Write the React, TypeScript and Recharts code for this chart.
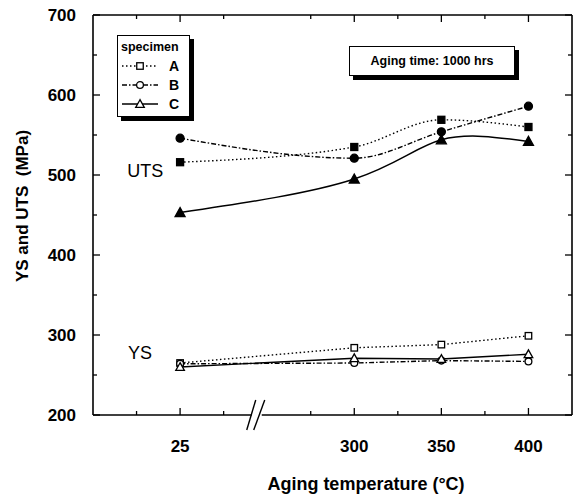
import React from "react"
import { LineChart, Line, XAxis, YAxis, ReferenceDot, ReferenceLine, Legend } from "recharts"

// aging temperatures and the place each one takes on the broken axis
const temps = ["25", "300", "350", "400"]
const axisPos = [200, 300, 350, 400]

// UTS (filled symbols)
const utsA = [516, 535, 569, 560]
const utsB = [546, 521, 554, 586]
const utsC = [453, 495, 544, 542]
// YS (open symbols)
const ysA = [265, 284, 288, 299]
const ysB = [264, 265, 268, 267]
const ysC = [260, 271, 270, 276]

const xTicks = [175, 200, 225, 275, 300, 325, 350, 375, 400]
const xMajor = [200, 300, 350, 400]
const yTicks = [250, 300, 350, 400, 450, 500, 550, 600, 650]
const yLabels = [200, 300, 400, 500, 600, 700]
const yMajor = [200, 300, 400, 500, 600, 700]
const X_MIN = 150
const X_MAX = 425
const Y_MIN = 200
const Y_MAX = 700

const specimens = ["A", "B", "C"]

const data = axisPos.map((pos, i) => ({
  pos,
  utsA: utsA[i],
  utsB: utsB[i],
  utsC: utsC[i],
  ysA: ysA[i],
  ysB: ysB[i],
  ysC: ysC[i],
}))

const FONT = "'Liberation Sans', Arial, Helvetica, sans-serif"
const DOTTED = "1.5 2.5"
const DASHDOT = "5 2 1.5 2"
const dashes = [DOTTED, DASHDOT, undefined]

type Shape = "square" | "circle" | "triangle"
const shapes: Shape[] = ["square", "circle", "triangle"]

function Marker({ cx, cy, shape, filled }: { cx: number; cy: number; shape: Shape; filled: boolean }) {
  const fill = filled ? "#000" : "#fff"
  const sw = 1.3
  if (shape === "square") {
    const s = filled ? 7 : 6.5
    return <rect x={cx - s / 2} y={cy - s / 2} width={s} height={s} fill={fill} stroke="#000" strokeWidth={sw} />
  }
  if (shape === "circle") {
    return <circle cx={cx} cy={cy} r={filled ? 4 : 3.4} fill={fill} stroke="#000" strokeWidth={sw} />
  }
  const h = filled ? 5 : 4.3
  return (
    <polygon
      points={`${cx},${cy - h} ${cx - h},${cy + h * 0.8} ${cx + h},${cy + h * 0.8}`}
      fill={fill}
      stroke="#000"
      strokeWidth={sw}
    />
  )
}

const dotFor = (name: string, shape: Shape, filled: boolean) => (p: any) =>
  <Marker key={`${name}-${p.index}`} cx={p.cx} cy={p.cy} shape={shape} filled={filled} />

function BottomLabel({ x, y, payload }: any) {
  const i = axisPos.indexOf(payload.value)
  if (i < 0) return <g />
  return (
    <text x={x} y={y + 31} textAnchor="middle" dominantBaseline="central" fontFamily={FONT} fontWeight="bold" fontSize={17} fill="#000">
      {temps[i]}
    </text>
  )
}

function LeftLabel({ x, y, payload }: any) {
  return (
    <text x={x - 17} y={y} textAnchor="end" dominantBaseline="central" fontFamily={FONT} fontWeight="bold" fontSize={17} fill="#000">
      {payload.value}
    </text>
  )
}

// inward tick marks at both ends of a vertical / horizontal reference line
const vTicks = (len: number) => (p: any) => {
  const lo = Math.max(p.y1, p.y2)
  const hi = Math.min(p.y1, p.y2)
  return (
    <g>
      <line x1={p.x1} y1={lo} x2={p.x1} y2={lo - len} stroke="#000" strokeWidth={1.3} />
      <line x1={p.x1} y1={hi} x2={p.x1} y2={hi + len} stroke="#000" strokeWidth={1.3} />
    </g>
  )
}
const hTicks = (len: number) => (p: any) => {
  const l = Math.min(p.x1, p.x2)
  const r = Math.max(p.x1, p.x2)
  return (
    <g>
      <line x1={l} y1={p.y1} x2={l + len} y2={p.y1} stroke="#000" strokeWidth={1.3} />
      <line x1={r} y1={p.y1} x2={r - len} y2={p.y1} stroke="#000" strokeWidth={1.3} />
    </g>
  )
}

function AxisBreak({ cx, cy }: any) {
  return (
    <g>
      <rect x={cx - 5} y={cy - 2} width={10} height={4} fill="#fff" />
      <line x1={cx - 10} y1={cy + 15} x2={cx - 1} y2={cy - 15} stroke="#000" strokeWidth={1.4} />
      <line x1={cx - 3} y1={cy + 15} x2={cx + 8} y2={cy - 15} stroke="#000" strokeWidth={1.4} />
    </g>
  )
}

const textLabel = (value: string) => ({ cx, cy }: any) => (
  <text x={cx} y={cy} textAnchor="middle" dominantBaseline="central" fontFamily={FONT} fontSize={18} fill="#000">
    {value}
  </text>
)

function LegendBox() {
  return (
    <div
      style={{
        border: "1.5px solid #000",
        boxShadow: "4px 4px 0 #000",
        background: "#fff",
        width: 68,
        padding: "4px 0 3px 3px",
        fontFamily: FONT,
        color: "#000",
      }}
    >
      <div style={{ fontSize: 12.5, fontWeight: "bold", lineHeight: "14px", marginBottom: 2 }}>specimen</div>
      {specimens.map((s, i) => (
        <div key={s} style={{ display: "flex", alignItems: "center", height: 19 }}>
          <svg width={38} height={12}>
            <line x1={1} y1={6} x2={37} y2={6} stroke="#000" strokeWidth={1.3} strokeDasharray={dashes[i]} />
            <Marker cx={19} cy={6} shape={shapes[i]} filled={false} />
          </svg>
          <span style={{ fontSize: 14, fontWeight: "bold", marginLeft: 10 }}>{s}</span>
        </div>
      ))}
    </div>
  )
}

export default function App() {
  return (
    <div style={{ position: "absolute", left: 0, top: 0, width: 576, height: 500, background: "#fff" }}>
      <LineChart width={576} height={500} data={data} margin={{ top: 15, right: 4, bottom: 0, left: 0 }}>
        <XAxis
          xAxisId="b"
          dataKey="pos"
          type="number"
          domain={[X_MIN, X_MAX]}
          ticks={xMajor}
          interval={0}
          height={85}
          tickSize={0}
          tickMargin={0}
          tickLine={false}
          tick={<BottomLabel />}
          axisLine={{ stroke: "#000", strokeWidth: 1.6 }}
          label={{
            content: () => (
              <text x={366} y={484} textAnchor="middle" dominantBaseline="central" fontFamily={FONT} fontWeight="bold" fontSize={18} fill="#000">
                Aging temperature (°C)
              </text>
            ),
          }}
        />
        <YAxis
          yAxisId="l"
          type="number"
          domain={[Y_MIN, Y_MAX]}
          ticks={yLabels}
          interval={0}
          width={93}
          tickSize={0}
          tickMargin={0}
          tickLine={false}
          tick={<LeftLabel />}
          axisLine={{ stroke: "#000", strokeWidth: 1.6 }}
          label={{
            content: () => (
              <text
                x={22}
                y={206}
                transform="rotate(-90 22 206)"
                textAnchor="middle"
                dominantBaseline="central"
                fontFamily={FONT}
                fontWeight="bold"
                fontSize={17}
                fill="#000"
                style={{ whiteSpace: "pre" }}
              >
                YS and UTS  (MPa)
              </text>
            ),
          }}
        />

        {/* top and right sides of the frame */}
        <ReferenceLine xAxisId="b" yAxisId="l" y={Y_MAX} ifOverflow="visible" stroke="#000" strokeWidth={1.6} />
        <ReferenceLine xAxisId="b" yAxisId="l" x={X_MAX} ifOverflow="visible" stroke="#000" strokeWidth={1.6} />

        {/* inward ticks on all four sides */}
        {xTicks.map((t) => (
          <ReferenceLine key={`xt${t}`} xAxisId="b" yAxisId="l" x={t} ifOverflow="visible" shape={vTicks(xMajor.includes(t) ? 7 : 4)} />
        ))}
        {[Y_MIN, ...yTicks, Y_MAX].map((t) => (
          <ReferenceLine key={`yt${t}`} xAxisId="b" yAxisId="l" y={t} ifOverflow="visible" shape={hTicks(yMajor.includes(t) ? 7 : 4)} />
        ))}

        <Legend
          layout="horizontal"
          verticalAlign="middle"
          align="center"
          content={() => <LegendBox />}
          wrapperStyle={{ position: "absolute", left: 117, top: 35, width: 72 }}
        />

        <Line xAxisId="b" yAxisId="l" dataKey="utsA" type="monotone" stroke="#000" strokeWidth={1.4} strokeDasharray={DOTTED} dot={dotFor("utsA", "square", true)} isAnimationActive={false} legendType="none" />
        <Line xAxisId="b" yAxisId="l" dataKey="utsB" type="monotone" stroke="#000" strokeWidth={1.4} strokeDasharray={DASHDOT} dot={dotFor("utsB", "circle", true)} isAnimationActive={false} legendType="none" />
        <Line xAxisId="b" yAxisId="l" dataKey="utsC" type="natural" stroke="#000" strokeWidth={1.5} dot={dotFor("utsC", "triangle", true)} isAnimationActive={false} legendType="none" />
        <Line xAxisId="b" yAxisId="l" dataKey="ysA" type="linear" stroke="#000" strokeWidth={1.4} strokeDasharray={DOTTED} dot={dotFor("ysA", "square", false)} isAnimationActive={false} legendType="none" />
        <Line xAxisId="b" yAxisId="l" dataKey="ysB" type="linear" stroke="#000" strokeWidth={1.4} strokeDasharray={DASHDOT} dot={dotFor("ysB", "circle", false)} isAnimationActive={false} legendType="none" />
        <Line xAxisId="b" yAxisId="l" dataKey="ysC" type="linear" stroke="#000" strokeWidth={1.4} dot={dotFor("ysC", "triangle", false)} isAnimationActive={false} legendType="none" />

        <ReferenceDot xAxisId="b" yAxisId="l" x={244} y={Y_MIN} r={0} shape={<AxisBreak />} />
        <ReferenceDot xAxisId="b" yAxisId="l" x={180} y={505} r={0} shape={textLabel("UTS")} />
        <ReferenceDot xAxisId="b" yAxisId="l" x={177} y={277} r={0} shape={textLabel("YS")} />
      </LineChart>

      <div
        style={{
          position: "absolute",
          left: 349,
          top: 46,
          width: 164,
          height: 28,
          border: "1.5px solid #000",
          boxShadow: "4px 4px 0 #000",
          background: "#fff",
          display: "flex",
          alignItems: "center",
          justifyContent: "center",
          fontFamily: FONT,
          fontWeight: "bold",
          fontSize: 12.5,
          color: "#000",
        }}
      >
        Aging time: 1000 hrs
      </div>
    </div>
  )
}
